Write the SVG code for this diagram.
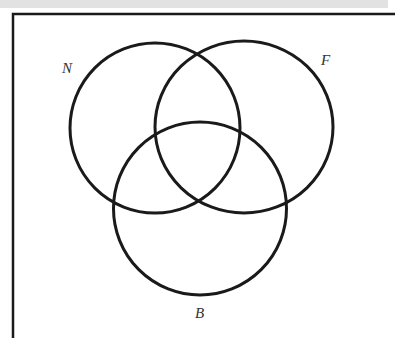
<svg xmlns="http://www.w3.org/2000/svg" width="395" height="338" viewBox="0 0 395 338">
<style>
.c{fill:none;stroke:#1a1a1a;stroke-width:3}
.l{font-family:"Liberation Serif",serif;font-style:italic;font-size:15px;fill:#333}
</style>
<rect width="395" height="338" fill="#ffffff"/>
<rect x="0" y="0" width="388" height="8" fill="#e2e2e2"/>
<path d="M13 338 V14 H395" fill="none" stroke="#1a1a1a" stroke-width="2.5"/>
<g id="N"><circle class="c" cx="155" cy="128" r="85"/><text class="l" x="62" y="73">N</text></g>
<g id="F"><ellipse class="c" cx="244" cy="127" rx="89" ry="86"/><text class="l" x="321" y="65">F</text></g>
<g id="B"><circle class="c" cx="200" cy="208.5" r="86.5"/><text class="l" x="195" y="318">B</text></g>
<g id="connectors"></g>
</svg>
